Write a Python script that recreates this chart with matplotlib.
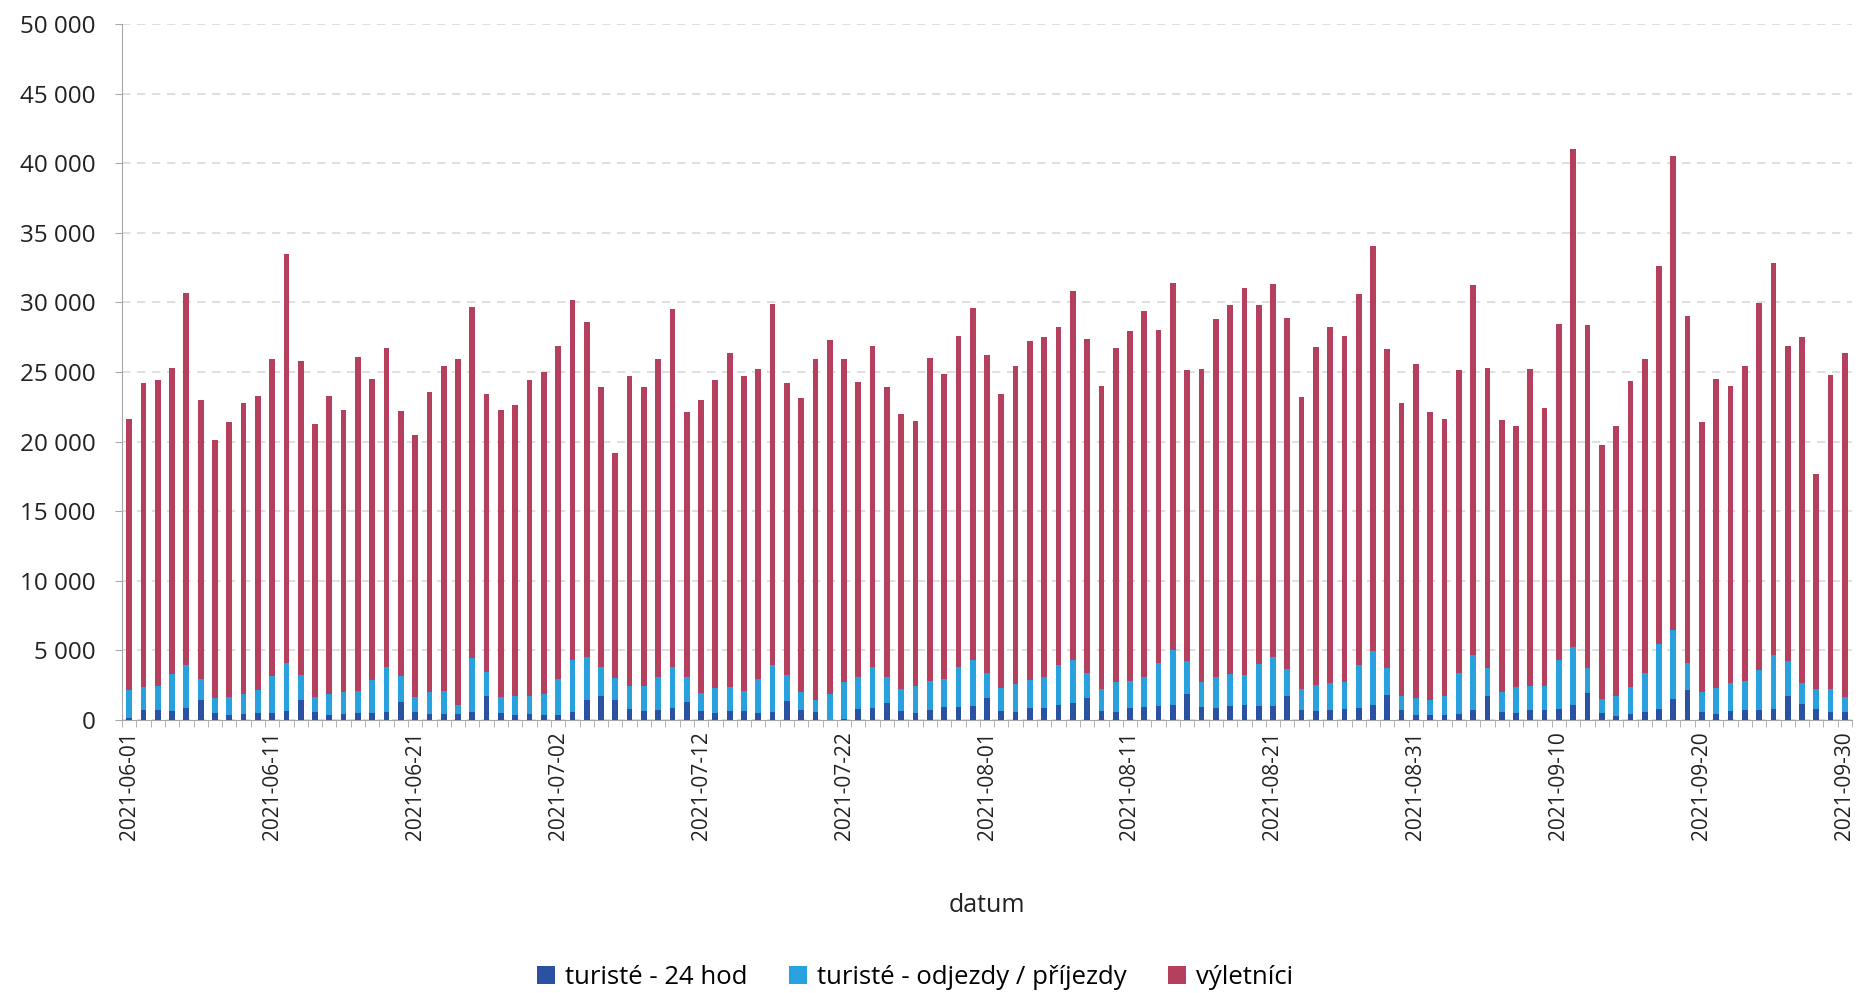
import numpy as np
import pandas as pd
import matplotlib
matplotlib.use("Agg")
import matplotlib.pyplot as plt
from matplotlib.ticker import FuncFormatter, MultipleLocator

# one day between 06-21 and 07-02 is missing in the source (121 categories)
dates = [d.strftime("%Y-%m-%d") for d in pd.date_range("2021-06-01", "2021-09-30")
         if d.strftime("%Y-%m-%d") != "2021-06-30"]

turiste_24 = [
    120, 750, 720, 650, 870, 1450, 510, 360, 430, 510,
    510, 650, 1450, 550, 360, 430, 510, 480, 600, 1300,
    580, 430, 460, 430, 580, 1730, 510, 360, 430, 360,
    360, 600, 1450, 1730, 1450, 800, 650, 720, 870, 1300,
    650, 530, 650, 650, 510, 600, 1370, 720, 550, 20,
    100, 800, 870, 1230, 650, 480, 720, 940, 940, 1010,
    1590, 650, 580, 870, 870, 1080, 1230, 1590, 650, 580,
    870, 940, 990, 1080, 1880, 940, 870, 1010, 1080, 1010,
    1010, 1730, 720, 630, 720, 800, 870, 1060, 1810, 720,
    360, 340, 360, 430, 720, 1730, 580, 510, 720, 720,
    800, 1060, 1950, 510, 290, 430, 580, 800, 1520, 2170,
    550, 410, 650, 720, 720, 820, 1730, 1160, 800, 580,
    600,
]

turiste_odjezdy = [
    2070, 1610, 1760, 2630, 3060, 1490, 1060, 1300, 1430, 1660,
    2650, 3450, 1800, 1090, 1500, 1570, 1560, 2410, 3230, 1860,
    1080, 1570, 1640, 680, 3880, 1720, 1150, 1330, 1330, 1520,
    2560, 3740, 3080, 2080, 1540, 1610, 1830, 2360, 2940, 1780,
    1300, 1760, 1690, 1420, 2410, 3330, 1830, 1300, 920, 1840,
    2650, 2280, 2940, 1850, 1570, 1980, 2080, 2000, 2870, 3280,
    1780, 1620, 2020, 2000, 2190, 2850, 3080, 1810, 1590, 2140,
    1900, 2120, 3110, 3930, 2390, 1810, 2190, 2270, 2150, 2990,
    3520, 1960, 1520, 1900, 1930, 1950, 3110, 3930, 1900, 1010,
    1210, 1080, 1400, 2970, 3980, 1980, 1400, 1850, 1760, 1710,
    3510, 4220, 1760, 980, 1470, 1930, 2770, 4650, 4940, 1930,
    1430, 1880, 2020, 2050, 2870, 3830, 2510, 1490, 1440, 1660,
    1040,
]

vyletnici = [
    19410, 21840, 21970, 22020, 26770, 20060, 18530, 19740, 20940, 21130,
    22740, 29400, 22550, 19660, 21440, 20250, 24030, 21610, 22870, 19040,
    18840, 21600, 23350, 24790, 25240, 19950, 20640, 20910, 22640, 23120,
    23930, 25810, 24070, 20090, 16160, 22340, 21420, 22820, 25690, 19070,
    21050, 22110, 24060, 22630, 22280, 25970, 21000, 21130, 24430, 25440,
    23200, 21170, 23040, 20820, 19780, 18990, 23200, 21910, 23790, 25310,
    22830, 21130, 22800, 24330, 24440, 24270, 26540, 24000, 21760, 23980,
    25180, 26340, 23900, 26390, 20880, 22450, 25740, 26520, 27820, 25850,
    26770, 25160, 20960, 24270, 25600, 24850, 26620, 29060, 22940, 21070,
    23980, 20730, 19840, 21750, 26550, 21590, 19570, 18790, 22720, 19970,
    24140, 35770, 24690, 18260, 19390, 21990, 22550, 27200, 34040, 24900,
    19420, 22210, 21330, 22630, 26360, 28200, 22660, 24900, 15460, 22560,
    24760,
]

series_names = ["turisté - 24 hod", "turisté - odjezdy / příjezdy", "výletníci"]
colors = ["#2A52A0", "#29A1DE", "#B5405D"]

plt.rcParams["font.family"] = ["Open Sans", "DejaVu Sans"]

fig = plt.figure(figsize=(18.6, 9.93), dpi=100)
ax = fig.add_axes([0.0656, 0.2749, 0.9301, 0.7009])

x = np.arange(len(dates))
a = np.array(turiste_24)
b = np.array(turiste_odjezdy)
c = np.array(vyletnici)
w = 0.4
ax.bar(x, a, w, color=colors[0], label=series_names[0], zorder=3)
ax.bar(x, b, w, bottom=a, color=colors[1], label=series_names[1], zorder=3)
ax.bar(x, c, w, bottom=a + b, color=colors[2], label=series_names[2], zorder=3)

ax.set_xlim(-0.5, len(dates) - 0.5)
ax.set_ylim(0, 50000)
ax.yaxis.set_major_locator(MultipleLocator(5000))
ax.yaxis.set_major_formatter(FuncFormatter(lambda v, p: f"{int(v):,}".replace(",", " ")))
ax.grid(axis="y", color="#d9d9d9", linestyle=(0, (5, 4)), linewidth=1.2, zorder=0)

tick_pos = x[::10]
ax.set_xticks(tick_pos)
ax.set_xticklabels([dates[i] for i in tick_pos], rotation=90)
ax.set_xticks(np.arange(-0.5, len(dates), 1.0), minor=True)
ax.tick_params(axis="x", which="major", length=0, pad=8, labelsize=15, labelcolor="#222222")
ax.tick_params(axis="x", which="minor", length=5, color="#a6a6a6")
ax.tick_params(axis="y", length=5, pad=14, color="#a6a6a6", labelsize=17.5, labelcolor="#222222")

for s in ["top", "right"]:
    ax.spines[s].set_visible(False)
ax.spines["left"].set_color("#a6a6a6")
ax.spines["bottom"].set_color("#a6a6a6")

ax.set_xlabel("datum", fontsize=18, color="#222222", labelpad=38)

fig.legend(loc="center", bbox_to_anchor=(0.492, 0.016), ncol=3, frameon=False,
           fontsize=18.5, handlelength=0.7, handleheight=0.7, columnspacing=1.6,
           handletextpad=0.4)

fig.savefig("out.png", dpi=100)
